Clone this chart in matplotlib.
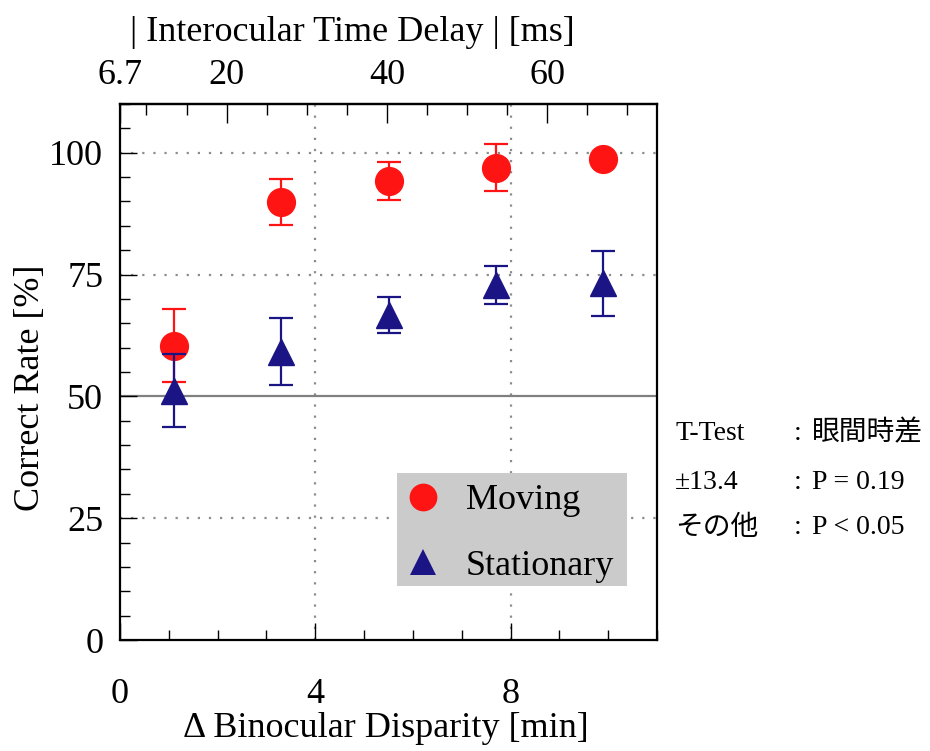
import matplotlib
matplotlib.use("Agg")
import matplotlib.pyplot as plt
from matplotlib.lines import Line2D
from matplotlib.patches import Rectangle
from matplotlib.ticker import FixedLocator, MultipleLocator

plt.rcParams["font.family"] = ["Liberation Serif", "Noto Sans CJK JP"]

# Binocular disparity steps [min] and correct-response rates [%]
disparity = [1.1, 3.3, 5.5, 7.7, 9.9]
moving_rate = [60.4, 89.9, 94.3, 96.9, 98.8]
moving_err = [7.5, 4.7, 3.9, 4.8, 1.0]
stationary_rate = [51.2, 59.2, 66.7, 72.8, 73.2]
stationary_err = [7.4, 6.8, 3.7, 3.9, 6.7]

series_names = ["Moving", "Stationary"]
bottom_ticklabels = ["0", "4", "8"]
left_ticklabels = ["0", "25", "50", "75", "100"]
top_ticks_ms = [6.7, 20, 40, 60]
top_minor_ms = [10, 15, 25, 30, 35, 45, 50, 55, 65, 70]

# T-test summary shown next to the plot
stat_labels = ["T-Test", "±13.4", "その他"]
stat_values = ["眼間時差", "P = 0.19", "P < 0.05"]

RED = "#ff1414"
NAVY = "#1a1485"
FS = 26

fig = plt.figure(figsize=(9.3, 7.51), dpi=100)
ax = fig.add_axes([0.129, 0.1478, 0.5775, 0.7137])

ax.set_xlim(0, 11)
ax.set_ylim(0, 110)

# reference lines
for yv in (25, 75, 100):
    ax.axhline(yv, color="#8c8c8c", lw=1.6, ls=(0, (1, 4)), zorder=1)
for xv in (4, 8):
    ax.axvline(xv, color="#8c8c8c", lw=1.6, ls=(0, (1, 4)), zorder=1)
ax.axhline(50, color="#808080", lw=1.6, zorder=1)

ax.errorbar(disparity, moving_rate, yerr=moving_err, fmt="o", color=RED,
            ms=20, mec=RED, elinewidth=1.6, capsize=8.5, capthick=1.6, zorder=3)
ax.errorbar(disparity, stationary_rate, yerr=stationary_err, fmt="^", color=NAVY,
            ms=19, mec=NAVY, elinewidth=1.6, capsize=8.5, capthick=1.6, zorder=4)

# axes styling
for sp in ax.spines.values():
    sp.set_linewidth(1.6)
ax.set_xticks([0, 4, 8])
ax.set_xticklabels(bottom_ticklabels)
ax.xaxis.set_minor_locator(MultipleLocator(1))
ax.set_yticks([0, 25, 50, 75, 100])
ax.set_yticklabels(left_ticklabels)
ax.yaxis.set_minor_locator(MultipleLocator(5))
ax.tick_params(axis="x", which="major", direction="in", length=12, width=1.0,
               labelsize=FS, pad=27, top=False)
ax.tick_params(axis="x", which="minor", direction="in", length=7, width=1.0, top=False)
ax.tick_params(axis="y", which="major", direction="in", length=12, width=1.0,
               labelsize=FS, pad=12, right=False)
ax.tick_params(axis="y", which="minor", direction="in", length=7, width=1.0, right=False)

ax.set_xlabel("Δ Binocular Disparity [min]", fontsize=FS)
ax.xaxis.set_label_coords(0.495, -0.135)
ax.set_ylabel("Correct Rate [%]", fontsize=FS)
ax.yaxis.set_label_coords(-0.135, 0.47)


# top axis: interocular time delay [ms]
def d2ms(d):
    return 6.7 + d * 6.7 / 1.1


def ms2d(ms):
    return (ms - 6.7) * 1.1 / 6.7


top = ax.secondary_xaxis("top", functions=(d2ms, ms2d))
top.set_xticks(top_ticks_ms)
top.set_xticklabels(["6.7", "20", "40", "60"])
top.xaxis.set_minor_locator(FixedLocator(top_minor_ms))
top.tick_params(which="major", direction="in", length=14, width=1.0, labelsize=FS, pad=9)
top.tick_params(which="minor", direction="in", length=8, width=1.0)
top.spines["top"].set_linewidth(1.6)
top.set_xlabel("| Interocular Time Delay | [ms]", fontsize=FS)
top.xaxis.set_label_coords(0.432, 1.118, transform=ax.transAxes)

# legend on a grey panel
ax.add_patch(Rectangle((0.516, 0.1), 0.428, 0.212, transform=ax.transAxes,
                       facecolor="#cbcbcb", edgecolor="none", zorder=5))
handles = [
    Line2D([], [], ls="none", marker="o", ms=20, mew=0, color=RED),
    Line2D([], [], ls="none", marker="^", ms=19, mew=0, color=NAVY),
]
leg = ax.legend(handles, series_names, loc="center", bbox_to_anchor=(0.725, 0.199),
                frameon=False, fontsize=FS, handlelength=1.0, handletextpad=0.7,
                labelspacing=0.88, borderpad=0.2)
leg.set_zorder(6)

# statistics table
rows_y = [433, 482, 528]
for lab, val, yp in zip(stat_labels, stat_values, rows_y):
    yf = 1 - yp / 751
    fig.text(675 / 930, yf, lab, fontsize=20, ha="left", va="center")
    fig.text(794 / 930, yf, ":", fontsize=20, ha="left", va="center")
    fig.text(812 / 930, yf, val, fontsize=20, ha="left", va="center")

fig.savefig("out.png", dpi=100)
